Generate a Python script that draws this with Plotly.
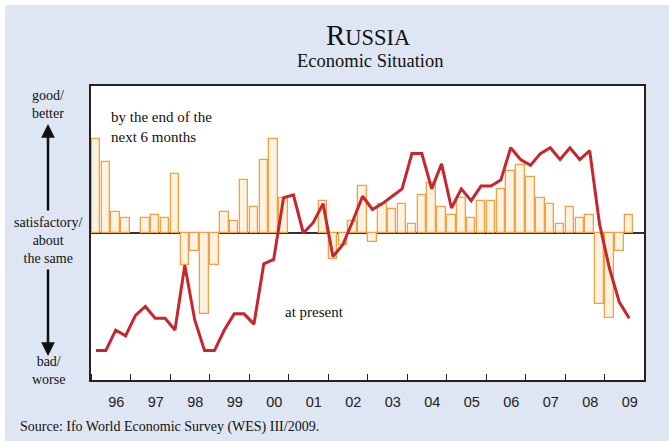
import plotly.graph_objects as go

# ---------------- data ----------------
years = list(range(1996, 2010))
year_labels = ["96", "97", "98", "99", "00", "01", "02", "03", "04", "05", "06", "07", "08", "09"]
quarter_index = list(range(56))  # 1996Q1 ... 2009Q4

# expectations "by the end of the next 6 months" (balance, bars)
expectations = [64, 48, 14, 10, None, 10, 12, 10, 40, -22, -12, -55,
                -22, 14, 8, 36, 18, 50, 64, 24, None, None, None, 22,
                -18, -8, 8, 32, -6, 20, 16, 20, 6, 26, 34, 18,
                12, 24, 10, 22, 22, 30, 42, 46, 38, 24, 20, 6,
                18, 10, 12, -48, -58, -12, 12, None]

# present situation (balance, line)
present = [-80, -80, -66, -70, -56, -50, -58, -58, -66, -22, -59, -80,
           -80, -66, -55, -55, -62, -21, -18, 24, 26, 0, 7, 20,
           -16, -8, 8, 25, 16, 20, 25, 30, 54, 54, 30, 47,
           17, 30, 22, 32, 32, 36, 58, 50, 46, 54, 58, 50,
           58, 50, 56, 6, -24, -47, -58, None]

grid_years = [1997, 2000, 2003, 2006, 2009]

# ---------------- figure ----------------
x_q = [years[0] + q * 0.25 + 0.125 for q in quarter_index]

SERIF = "Liberation Serif, Times New Roman, serif"
SANS = "Liberation Sans, Arial, sans-serif"
BG = "#dfe6f3"

fig = go.Figure()
fig.add_trace(go.Bar(
    x=x_q, y=expectations, width=0.215,
    marker=dict(color="#fbf3df", line=dict(color="#f3a046", width=1.3)),
    showlegend=False, hoverinfo="skip"))
fig.add_trace(go.Scatter(
    x=x_q, y=present, mode="lines",
    line=dict(color="#c8262e", width=3),
    showlegend=False, hoverinfo="skip"))

for gy in grid_years:
    fig.add_vline(x=gy, line_color="#9a9a9a", line_width=1.2, layer="below")

L, R, T, B = 91, 25, 86, 61
W, H = 669, 441
pw, ph = W - L - R, H - T - B


def px(xp):
    return (xp - L) / pw


def py(yp):
    return (H - B - yp) / ph


ann = []
ann.append(dict(text="R<span style='font-size:22.5px'>USSIA</span>", x=px(368), y=py(35),
                font=dict(family=SERIF, size=29, color="#111")))
ann.append(dict(text="Economic Situation", x=px(370), y=py(61),
                font=dict(family=SERIF, size=18.5, color="#111")))
ann.append(dict(text="good/<br>better", x=px(48), y=py(104.5),
                font=dict(family=SERIF, size=14, color="#111")))
ann.append(dict(text="satisfactory/<br>about<br>the same", x=px(48), y=py(240),
                font=dict(family=SERIF, size=14, color="#111")))
ann.append(dict(text="bad/<br>worse", x=px(48), y=py(370.5),
                font=dict(family=SERIF, size=14, color="#111")))
ann.append(dict(text="by the end of the<br>next 6 months", x=px(109), y=py(126.5),
                xanchor="left", align="left",
                font=dict(family=SERIF, size=15, color="#111")))
ann.append(dict(text="at present", x=px(314), y=py(312),
                font=dict(family=SERIF, size=15, color="#111")))
ann.append(dict(text="Source: Ifo World Economic Survey (WES) III/2009.", x=px(18), y=py(427),
                xanchor="left", font=dict(family=SERIF, size=14, color="#111")))
for a in ann:
    a.setdefault("xanchor", "center")
    a.update(xref="paper", yref="paper", yanchor="middle", showarrow=False)

# arrows
ann.append(dict(x=px(48), y=py(124), ax=0, ay=88, xref="paper", yref="paper",
                text="", showarrow=True, arrowhead=2, arrowsize=1.1, arrowwidth=2.5,
                arrowcolor="#111"))
ann.append(dict(x=px(48), y=py(356), ax=0, ay=-88, xref="paper", yref="paper",
                text="", showarrow=True, arrowhead=2, arrowsize=1.1, arrowwidth=2.5,
                arrowcolor="#111"))

shapes = [
    dict(type="rect", xref="paper", yref="paper", x0=px(0), x1=px(W), y0=py(0), y1=py(5),
         fillcolor="white", line_width=0, layer="above"),
    dict(type="rect", xref="paper", yref="paper", x0=px(0), x1=px(5), y0=py(0), y1=py(H),
         fillcolor="white", line_width=0, layer="above"),
]

fig.update_layout(
    width=W, height=H, autosize=False,
    margin=dict(l=L, r=R, t=T, b=B, pad=0),
    paper_bgcolor=BG, plot_bgcolor="white",
    bargap=0, annotations=ann, shapes=shapes,
    xaxis=dict(range=[years[0], years[-1] + 1], showgrid=False, zeroline=False,
               tickmode="array", tickvals=[y + 0.64 for y in years], ticktext=year_labels,
               ticks="", ticklabelstandoff=8,
               tickfont=dict(family=SANS, size=14.5, color="#222"),
               showline=True, mirror=True, linecolor="#222", linewidth=2,
               minor=dict(tick0=years[0], dtick=1, ticks="inside", ticklen=6,
                          tickcolor="#222", tickwidth=1, showgrid=False)),
    yaxis=dict(range=[-100, 100], showgrid=False, showticklabels=False, ticks="",
               zeroline=True, zerolinecolor="#333", zerolinewidth=1.6,
               showline=True, mirror=True, linecolor="#222", linewidth=2),
)

fig.write_html("out.html", config={"displayModeBar": False},
               post_script="document.body.style.margin='0px';document.body.style.overflow='hidden';")
